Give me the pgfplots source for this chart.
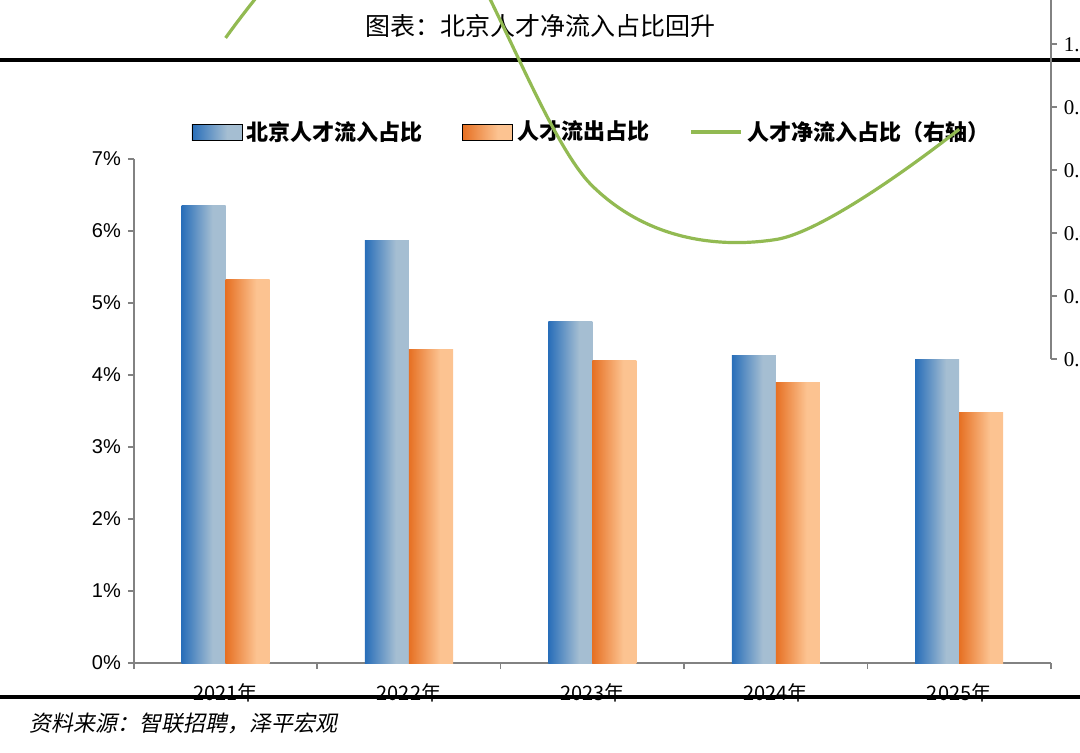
\documentclass[border=0pt]{standalone}
\usepackage{pgfplots}
\pgfplotsset{compat=1.18}
\usepackage{fontspec}
\setmainfont{Liberation Serif}
\newfontfamily\cjk{Noto Sans CJK SC}
\newfontfamily\cjki[FakeSlant=0.2]{Noto Sans CJK SC}
\newfontfamily\lsans{Liberation Sans}
\definecolor{bdark}{RGB}{40,110,185}
\definecolor{blight}{RGB}{165,190,210}
\definecolor{odark}{RGB}{230,112,35}
\definecolor{olight}{RGB}{252,195,145}
\definecolor{lgreen}{RGB}{146,186,82}
\definecolor{axgray}{RGB}{130,130,130}
\pgfdeclarehorizontalshading{blueshade}{100bp}{color(0bp)=(bdark); color(25bp)=(bdark); color(60bp)=(blight); color(75bp)=(blight); color(100bp)=(bdark!70!blight)}
\pgfdeclarehorizontalshading{orangeshade}{100bp}{color(0bp)=(odark); color(25bp)=(odark); color(60bp)=(olight); color(75bp)=(olight); color(100bp)=(odark!70!olight)}
\pgfplotsset{bb/.style={ybar, bar width=0.24, bar shift=-0.12, draw=none, shading=blueshade, forget plot},
  oo/.style={ybar, bar width=0.24, bar shift=0.12, draw=none, shading=orangeshade, forget plot}}
\begin{document}
\begin{tikzpicture}[x=0.5pt,y=0.5pt]
\path[use as bounding box] (0,0) rectangle (1080,753);
\node[font=\cjk\fontsize{12.5}{14}\selectfont] at (540,727) {图表：北京人才净流入占比回升};
\draw[line width=1.6pt] (0,693) -- (1080,693);
\draw[line width=1.6pt] (0,56) -- (1080,56);
\node[font=\cjki\fontsize{11}{13}\selectfont, anchor=west] at (22,30) {资料来源：智联招聘，泽平宏观};
\begin{axis}[at={(73,125)}, anchor=south west, width=458.5pt, height=252pt, scale only axis,
  xmin=-0.5, xmax=4.5, ymin=0, ymax=7,
  axis x line*=bottom, axis y line*=left,
  axis line style={axgray, line width=0.8pt},
  ytick={0,1,...,7}, yticklabel={\pgfmathprintnumber{\tick}\%},
  yticklabel style={font=\lsans\fontsize{10}{12}\selectfont},
  xtick={0,1,2,3,4}, xticklabels={2021年,2022年,2023年,2024年,2025年},
  xticklabel style={font=\cjk\fontsize{10}{12}\selectfont, yshift=-4pt},
  major x tick style={draw=none},
  minor xtick={-0.5,0.5,1.5,2.5,3.5,4.5},
  minor tick length=3pt, major tick length=3pt, tick align=outside,
  tick style={axgray, line width=0.8pt},
  /pgf/number format/assume math mode=true,
  legend style={at={(0.5,1.015)}, anchor=south, draw=none, fill=none,
    font=\cjk\bfseries\fontsize{11}{13}\selectfont, /tikz/every even column/.append style={column sep=18pt}},
  legend columns=3,
  ]
\addplot[bb] coordinates {(0,6.35)};
\addplot[bb] coordinates {(1,5.87)};
\addplot[bb] coordinates {(2,4.74)};
\addplot[bb] coordinates {(3,4.27)};
\addplot[bb] coordinates {(4,4.21)};
\addplot[oo] coordinates {(0,5.33)};
\addplot[oo] coordinates {(1,4.35)};
\addplot[oo] coordinates {(2,4.2)};
\addplot[oo] coordinates {(3,3.89)};
\addplot[oo] coordinates {(4,3.48)};
\addlegendimage{legend image code/.code={\shade[shading=blueshade] (0pt,-4pt) rectangle (25pt,4pt);}}
\addlegendentry{北京人才流入占比}
\addlegendimage{legend image code/.code={\shade[shading=orangeshade] (0pt,-4pt) rectangle (25pt,4pt);}}
\addlegendentry{人才流出占比}
\addlegendimage{legend image code/.code={\draw[lgreen, line width=2pt] (0pt,0pt) -- (25pt,0pt);}}
\addlegendentry{人才净流入占比（右轴）}
\end{axis}
\begin{axis}[at={(73,125)}, anchor=south west, width=458.5pt, height=252pt, scale only axis,
  xmin=-0.5, xmax=4.5, ymin=0, ymax=1.6,
  axis x line=none, axis y line*=right,
  axis line style={axgray, line width=0.8pt},
  ytick={0,0.2,...,1.6}, yticklabel={\pgfmathprintnumber[fixed,fixed zerofill,precision=1]{\tick}\%},
  yticklabel style={font=\fontsize{10.5}{12}\selectfont},
  tick align=outside, major tick length=3pt, tick style={axgray, line width=0.8pt},
  /pgf/number format/assume math mode=true,
  ]
\addplot[lgreen, line width=1.6pt, smooth, tension=0.55] coordinates {(0,1.02) (1,1.52) (2,0.55) (3,0.38) (4,0.73)};
\end{axis}
\end{tikzpicture}
\end{document}
